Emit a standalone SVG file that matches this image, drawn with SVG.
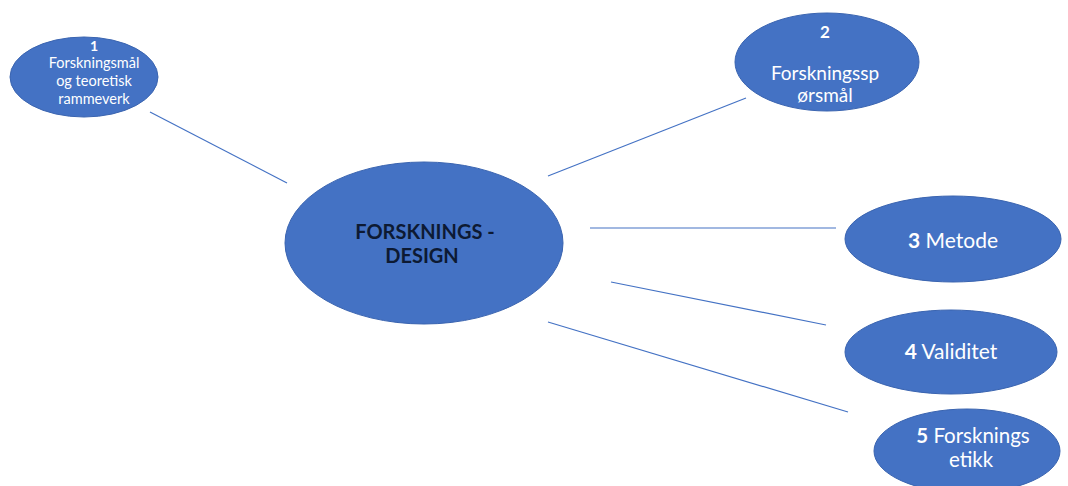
<svg xmlns="http://www.w3.org/2000/svg" width="1068" height="486" viewBox="0 0 1068 486">
<style>
.n{fill:#4472C4;stroke:#3A64B0;stroke-width:1}
.t{font-family:Lato,"Open Sans","Liberation Sans",sans-serif;fill:#fff;text-anchor:middle}
.c{font-family:Lato,"Open Sans","Liberation Sans",sans-serif;fill:#0d1a33;text-anchor:middle;font-weight:bold;font-size:20px}
.e{stroke:#4472C4;stroke-width:1.2;fill:none}
</style>
<rect width="1068" height="486" fill="#fff"/>
<g id="connectors">
<line class="e" x1="150" y1="112" x2="287" y2="183"/>
<line class="e" x1="548" y1="176" x2="746" y2="98"/>
<line class="e" x1="590" y1="228" x2="836" y2="228"/>
<line class="e" x1="611" y1="282" x2="826" y2="325"/>
<line class="e" x1="548" y1="322" x2="848" y2="412"/>
</g>
<g id="center">
<ellipse class="n" cx="424" cy="243" rx="139" ry="81"/>
<text class="c" x="425" y="239">FORSKNINGS -</text>
<text class="c" x="422" y="263">DESIGN</text>
</g>
<g id="node1">
<ellipse class="n" cx="84" cy="77" rx="74" ry="40"/>
<text class="t" font-size="14" font-weight="bold" x="94" y="51">1</text>
<text class="t" font-size="14.5" x="94" y="68">Forskningsmål</text>
<text class="t" font-size="14.5" x="94" y="86">og teoretisk</text>
<text class="t" font-size="14.5" x="94" y="104">rammeverk</text>
</g>
<g id="node2">
<ellipse class="n" cx="827" cy="62" rx="92" ry="49"/>
<text class="t" font-size="17" font-weight="bold" x="825" y="38">2</text>
<text class="t" font-size="19" x="825" y="80">Forskningssp</text>
<text class="t" font-size="19" x="825" y="102">ørsmål</text>
</g>
<g id="node3">
<ellipse class="n" cx="953" cy="239" rx="108" ry="43"/>
<text class="t" font-size="21" x="953" y="248"><tspan font-weight="bold">3</tspan> Metode</text>
</g>
<g id="node4">
<ellipse class="n" cx="951" cy="352" rx="106" ry="42"/>
<text class="t" font-size="21" x="951" y="359"><tspan font-weight="bold">4</tspan> Validitet</text>
</g>
<g id="node5">
<ellipse class="n" cx="967" cy="451" rx="93" ry="42"/>
<text class="t" font-size="20.5" x="973" y="443"><tspan font-weight="bold">5</tspan> Forsknings</text>
<text class="t" font-size="20.5" x="971" y="467">etikk</text>
</g>
</svg>
